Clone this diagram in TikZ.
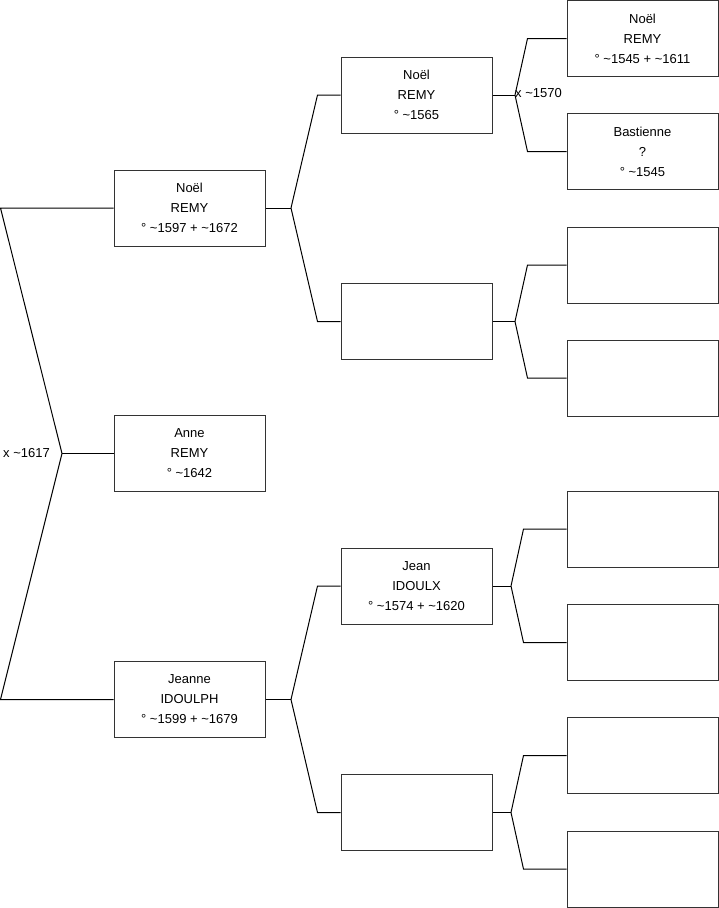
\documentclass[tikz,border=0pt]{standalone}
\usepackage{fontspec}
\setmainfont{Liberation Sans}
\definecolor{boxline}{HTML}{333333}
\usetikzlibrary{positioning}

\begin{document}
\begin{tikzpicture}[x=1pt, y=-1pt,
    person/.style={rectangle, draw=boxline, line width=1pt,
        minimum width=151pt, minimum height=76pt, inner sep=0pt,
        align=center, font=\fontsize{13}{20}\selectfont},
    link/.style={line width=1pt, black},
    union/.style={font=\fontsize{13}{16}\selectfont, inner sep=0pt}
]
\useasboundingbox (0,0) rectangle (719,908);

% Generation 1
\node[person] (noelA) at (189.5, 208) {Noël\\REMY\\° \textasciitilde1597 + \textasciitilde1672};
\node[person] (anne) at (189.5, 453.5) {Anne\\REMY\\° \textasciitilde1642};
\node[person] (jeanne) at (189.5, 699.5) {Jeanne\\IDOULPH\\° \textasciitilde1599 + \textasciitilde1679};

% Generation 2
\node[person] (noelB) at (416.5, 95) {Noël\\REMY\\° \textasciitilde1565};
\node[person] (motherA) at (416.5, 321.5) {};
\node[person] (jean) at (416.5, 586) {Jean\\IDOULX\\° \textasciitilde1574 + \textasciitilde1620};
\node[person] (motherB) at (416.5, 812.5) {};

% Generation 3
\node[person] (noelC) at (642.5, 38.5) {Noël\\REMY\\° \textasciitilde1545 + \textasciitilde1611};
\node[person] (bastienne) at (642.5, 151.5) {Bastienne\\?\\° \textasciitilde1545};
\node[person] (gp3) at (642.5, 265) {};
\node[person] (gp4) at (642.5, 378) {};
\node[person] (gp5) at (642.5, 529) {};
\node[person] (gp6) at (642.5, 642.5) {};
\node[person] (gp7) at (642.5, 755.5) {};
\node[person] (gp8) at (642.5, 869) {};

% Fork points
\coordinate (v0) at (62, 453.5);
\coordinate (v1) at (291, 208);
\coordinate (v2) at (291, 699.5);
\coordinate (v3) at (515, 95);
\coordinate (v4) at (515, 321.5);
\coordinate (v5) at (511, 586);
\coordinate (v6) at (511, 812.5);

% Marriage labels
\node[union, anchor=east] (m1617) at (50, 453.5) {x \textasciitilde1617};
\node[union, anchor=west] (m1570) at (515, 93) {x \textasciitilde1570};

% Parents of Anne
\draw[link] (noelA.west) -- ([xshift=-113]noelA.west) -- (v0)
    -- ([xshift=-113]jeanne.west) -- (jeanne.west);
\draw[link] (v0) -- (anne.west);

% Parents of Noel (1597)
\draw[link] (noelA.east) -- (v1);
\draw[link] (v1) -- ([xshift=-23]noelB.west) -- (noelB.west);
\draw[link] (v1) -- ([xshift=-23]motherA.west) -- (motherA.west);

% Parents of Jeanne
\draw[link] (jeanne.east) -- (v2);
\draw[link] (v2) -- ([xshift=-23]jean.west) -- (jean.west);
\draw[link] (v2) -- ([xshift=-23]motherB.west) -- (motherB.west);

% Parents of Noel (1565)
\draw[link] (noelB.east) -- (v3);
\draw[link] (v3) -- ([xshift=-39]noelC.west) -- (noelC.west);
\draw[link] (v3) -- ([xshift=-39]bastienne.west) -- (bastienne.west);

% Parents of the unknown mother
\draw[link] (motherA.east) -- (v4);
\draw[link] (v4) -- ([xshift=-39]gp3.west) -- (gp3.west);
\draw[link] (v4) -- ([xshift=-39]gp4.west) -- (gp4.west);

% Parents of Jean
\draw[link] (jean.east) -- (v5);
\draw[link] (v5) -- ([xshift=-43]gp5.west) -- (gp5.west);
\draw[link] (v5) -- ([xshift=-43]gp6.west) -- (gp6.west);

% Parents of the second unknown mother
\draw[link] (motherB.east) -- (v6);
\draw[link] (v6) -- ([xshift=-43]gp7.west) -- (gp7.west);
\draw[link] (v6) -- ([xshift=-43]gp8.west) -- (gp8.west);

\end{tikzpicture}
\end{document}
